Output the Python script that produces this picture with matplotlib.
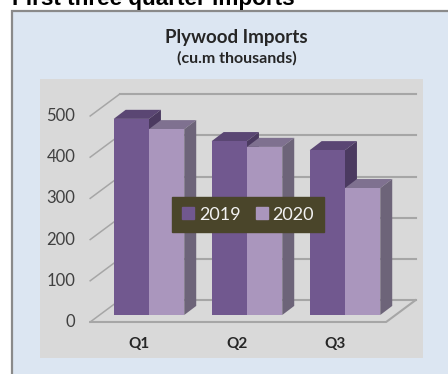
import matplotlib
matplotlib.use('Agg')
import matplotlib.pyplot as plt
from matplotlib.patches import Polygon, Rectangle

quarters = ['Q1', 'Q2', 'Q3']
imports_2019 = [476, 422, 400]
imports_2020 = [451, 408, 308]
years = ['2019', '2020']
value_ticks = [0, 100, 200, 300, 400, 500]

W, H = 448, 374

# faux 3d offsets, in axis units
bar_w = 0.36
depth_x, depth_y = 0.122, 22      # bar depth
wall_x, wall_y = -0.30, 36        # back wall relative to the bar plane
floor_y = -17                     # front edge of the floor
left_x, right_x = -0.60, 2.42     # front floor corners

fig = plt.figure(figsize=(W / 100, H / 100), dpi=100, facecolor='white')

# chart frame, runs off the right and bottom edges
fig.add_artist(Rectangle((11.5 / W, -0.02), 1, 1 - 10.5 / H + 0.02, transform=fig.transFigure,
                         facecolor='#dce6f2', edgecolor='#8a8a8a', linewidth=1.6, zorder=-1))
fig.text(12 / W, 1 - 5 / H, 'First three quarter imports', fontsize=16.2, fontweight='bold',
         family='Liberation Sans', color='black', va='baseline', ha='left')
fig.text(236.5 / W, 1 - 37 / H, 'Plywood Imports', fontsize=13.5, fontweight='bold', family='Lato',
         color='#262626', ha='center', va='center')
fig.text(236.5 / W, 1 - 58 / H, '(cu.m thousands)', fontsize=11.5, fontweight='bold', family='Lato',
         color='#262626', ha='center', va='center')

ax = fig.add_axes([40 / W, 1 - 358 / H, 383 / W, 279 / H])
ax.set_facecolor('#d9d9d9')
ax.set_xlim(-1.112, 2.796)
ax.set_ylim(-104.4, 572.8)
for s in ax.spines.values():
    s.set_visible(False)
ax.set_xticks([])
ax.set_yticks([])

grid_c = '#a6a6a6'
back_left = left_x - wall_x
back_right = right_x - wall_x

# wall gridlines and the little diagonal on the side wall
for v in value_ticks:
    ax.plot([back_left, back_right], [v + wall_y, v + wall_y], color=grid_c, lw=1.5, zorder=1)
    ax.plot([left_x, back_left], [v + floor_y, v + wall_y], color=grid_c, lw=1.1, zorder=1)
    ax.text(left_x - 0.15, v + floor_y, str(v), ha='right', va='center', fontsize=12,
            family='Lato', color='#404040')

# floor outline
ax.plot([left_x, right_x, back_right], [floor_y, floor_y, wall_y], color=grid_c, lw=1.5, zorder=1)


def draw_bar(x0, value, front, top, side, z):
    x1 = x0 + bar_w
    ax.add_patch(Polygon([(x0, value), (x0 + depth_x, value + depth_y),
                          (x1 + depth_x, value + depth_y), (x1, value)], color=top, lw=0, zorder=z))
    ax.add_patch(Polygon([(x1, 0), (x1 + depth_x, depth_y), (x1 + depth_x, value + depth_y),
                          (x1, value)], color=side, lw=0, zorder=z))
    ax.add_patch(Rectangle((x0, 0), bar_w, value, color=front, lw=0, zorder=z))


c_2019 = ('#71588f', '#5a4673', '#4b3a60')
c_2020 = ('#aa96bd', '#7f7190', '#6d6479')
for i in range(len(quarters)):
    draw_bar(i - bar_w, imports_2019[i], *c_2019, z=2 + i)
    draw_bar(i, imports_2020[i], *c_2020, z=2 + i)
    ax.text(i - 0.1, -71, quarters[i], ha='center', va='center', fontsize=11, fontweight='bold',
            family='Lato', color='#262626')

handles = [Rectangle((0, 0), 1, 1, color=c_2019[0]), Rectangle((0, 0), 1, 1, color=c_2020[0])]
leg = ax.legend(handles, years, ncol=2, loc='center', bbox_to_anchor=(208 / 383, 1 - (214.5 - 79) / 279),
                frameon=True, fancybox=False, facecolor='#4a452a', edgecolor='#4a452a', framealpha=1,
                labelcolor='#f2f2f2', handlelength=0.67, handleheight=0.67, columnspacing=0.83,
                handletextpad=0.25, borderpad=0.55, prop={'family': 'Lato', 'size': 13})
leg.set_zorder(10)

fig.savefig('out.png', dpi=100)
